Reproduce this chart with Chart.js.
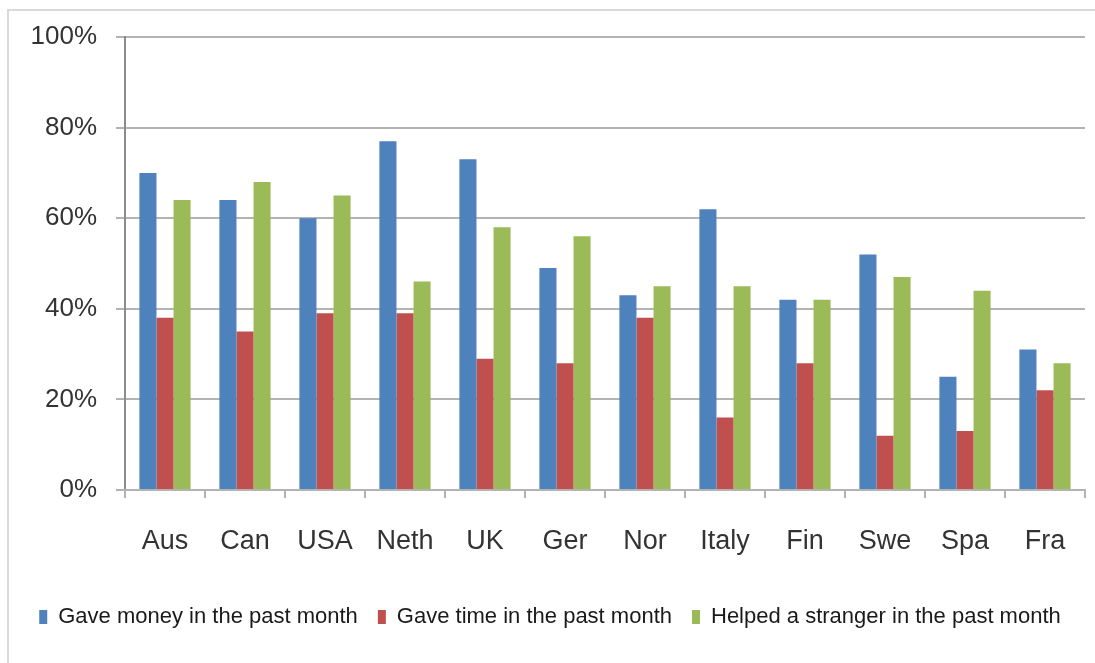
<!DOCTYPE html>
<html lang="en">
<head>
  <meta charset="UTF-8">
  <title>Giving behaviour by country</title>
  <style>
    body { margin: 0; padding: 0; background: #fff; overflow: hidden; }
    #frame { position: absolute; left: 7px; top: 9px; width: 1200px; height: 800px; border: 2px solid #d9d9d9; }
    #wrap { position: absolute; left: 0; top: 0; width: 1095px; height: 663px; }
  </style>
</head>
<body>
  <div id="frame"></div>
  <div id="wrap"><canvas id="grafico"></canvas></div>
  <script src="https://cdn.jsdelivr.net/npm/chart.js"></script>
  <script>
    // dados (%)
    const paises = ['Aus','Can','USA','Neth','UK','Ger','Nor','Italy','Fin','Swe','Spa','Fra'];
    const deuDinheiro = [70, 64, 60, 77, 73, 49, 43, 62, 42, 52, 25, 31];
    const deuTempo    = [38, 35, 39, 39, 29, 28, 38, 16, 28, 12, 13, 22];
    const ajudouEstranho = [64, 68, 65, 46, 58, 56, 45, 45, 42, 47, 44, 28];
    const yTicks = [0, 20, 40, 60, 80, 100];

    const cinza = '#b3b3b3';
    const fonte = "'Liberation Sans', Arial, sans-serif";

    new Chart(document.getElementById('grafico'), {
      type: 'bar',
      data: {
        labels: paises,
        datasets: [
          { label: 'Gave money in the past month', data: deuDinheiro, backgroundColor: '#4f81bd' },
          { label: 'Gave time in the past month', data: deuTempo, backgroundColor: '#c0504d' },
          { label: 'Helped a stranger in the past month', data: ajudouEstranho, backgroundColor: '#9bbb59' }
        ]
      },
      options: {
        responsive: true,
        maintainAspectRatio: false,
        animation: false,
        layout: { padding: { top: 37, right: 10, left: 15, bottom: 25 } },
        datasets: { bar: { categoryPercentage: 0.64, barPercentage: 1.0 } },
        plugins: {
          tooltip: { enabled: false },
          legend: {
            position: 'bottom',
            labels: {
              font: { family: fonte, size: 22 },
              color: '#1a1a1a',
              boxWidth: 8,
              boxHeight: 14,
              padding: 20
            }
          }
        },
        scales: {
          y: {
            min: 0, max: 100,
            afterBuildTicks: s => { s.ticks = yTicks.map(v => ({ value: v })); },
            afterFit: s => { s.width = 110; },
            border: { color: '#8c8c8c', width: 2 },
            grid: { color: cinza, lineWidth: 2, tickLength: 9 },
            ticks: { padding: 19, color: '#333', font: { family: fonte, size: 26 }, callback: v => v + '%' }
          },
          x: {
            afterFit: s => { s.height = 96; },
            border: { color: cinza, width: 2 },
            grid: { offset: true, drawOnChartArea: false, color: cinza, lineWidth: 2, tickLength: 8 },
            ticks: { padding: 27, color: '#333', font: { family: fonte, size: 27 } }
          }
        }
      }
    });
  </script>
</body>
</html>
